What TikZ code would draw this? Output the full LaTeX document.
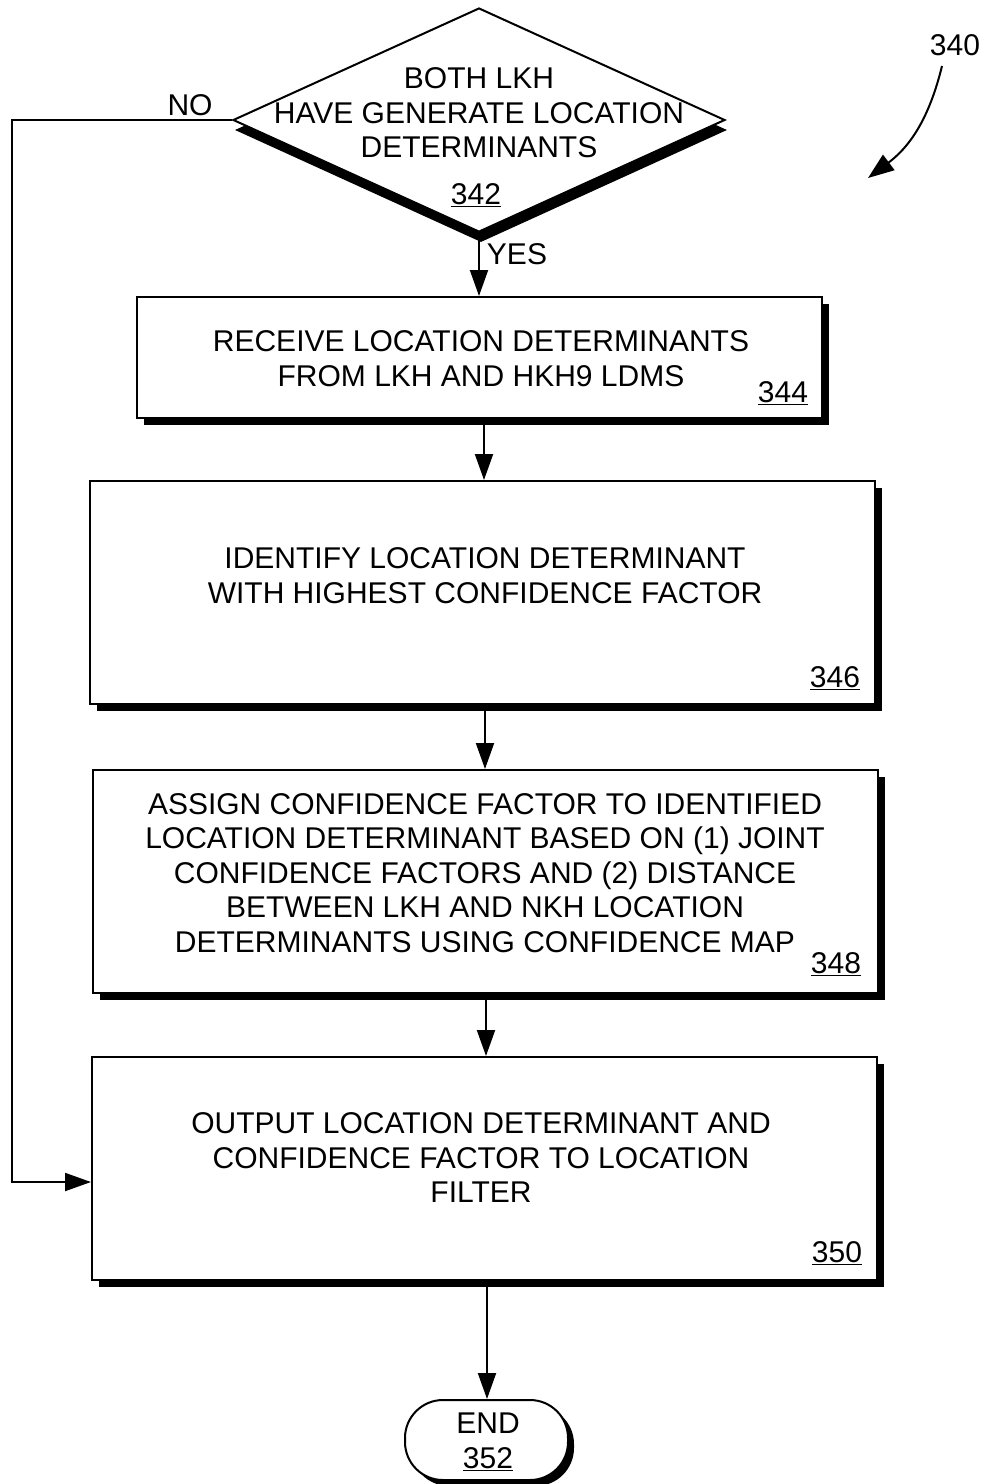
\documentclass[tikz,border=0pt]{standalone}
\usepackage{fontspec}
\setmainfont{Liberation Sans}
\usetikzlibrary{arrows.meta,shapes.geometric}
\begin{document}
\begin{tikzpicture}[x=1pt,y=-1pt,
  every node/.style={font=\fontsize{30}{34.5}\selectfont},
  stepbox/.style={draw,line width=2pt,fill=white,inner sep=0pt},
  shadowbox/.style={fill=black,inner sep=0pt},
  txt/.style={align=center,inner sep=0pt},
  num/.style={inner sep=0pt},
  arr/.style={line width=2pt,-{Triangle[length=26pt,width=18pt]}},
  line/.style={line width=2pt}]
\useasboundingbox (0,0) rectangle (986,1484);
% diamond
\node[diamond,shadowbox,minimum width=492pt,minimum height=224pt] (diash) at (481,130) {};
\node[diamond,stepbox,minimum width=492pt,minimum height=224pt] (dia) at (479,120) {};
\node[txt] (diat) at (479,113) {BOTH LKH\\HAVE GENERATE LOCATION\\DETERMINANTS};
\node[num] (n342) at (476,195) {\underline{342}};
% box 344
\node[shadowbox,minimum width=685pt,minimum height=121pt] (s344) at (486.5,364.5) {};
\node[stepbox,minimum width=685pt,minimum height=121pt] (b344) at (479.5,357.5) {};
\node[txt] (t344) at (481,358.5) {RECEIVE LOCATION DETERMINANTS\\FROM LKH AND HKH9 LDMS};
\node[num] (n344) at (783,393) {\underline{344}};
% box 346
\node[shadowbox,minimum width=785pt,minimum height=223pt] (s346) at (489.5,599.5) {};
\node[stepbox,minimum width=785pt,minimum height=223pt] (b346) at (482.5,592.5) {};
\node[txt] (t346) at (485,575.5) {IDENTIFY LOCATION DETERMINANT\\WITH HIGHEST CONFIDENCE FACTOR};
\node[num] (n346) at (835,678) {\underline{346}};
% box 348
\node[shadowbox,minimum width=785pt,minimum height=223pt] (s348) at (492.5,888.5) {};
\node[stepbox,minimum width=785pt,minimum height=223pt] (b348) at (485.5,881.5) {};
\node[txt] (t348) at (485,873) {ASSIGN CONFIDENCE FACTOR TO IDENTIFIED\\LOCATION DETERMINANT BASED ON (1) JOINT\\CONFIDENCE FACTORS AND (2) DISTANCE\\BETWEEN LKH AND NKH LOCATION\\DETERMINANTS USING CONFIDENCE MAP};
\node[num] (n348) at (836,964) {\underline{348}};
% box 350
\node[shadowbox,minimum width=785pt,minimum height=223pt] (s350) at (491.5,1175.5) {};
\node[stepbox,minimum width=785pt,minimum height=223pt] (b350) at (484.5,1168.5) {};
\node[txt] (t350) at (481,1158) {OUTPUT LOCATION DETERMINANT AND\\CONFIDENCE FACTOR TO LOCATION\\FILTER};
\node[num] (n350) at (837,1253) {\underline{350}};
% end
\node[shadowbox,rounded corners=38pt,minimum width=163pt,minimum height=80pt] (send) at (492.5,1446) {};
\node[stepbox,rounded corners=38pt,minimum width=163pt,minimum height=80pt] (bend) at (486.5,1440) {};
\node[txt] (tend) at (488,1442) {END\\\underline{352}};
% connectors
\draw[arr] (dia.south) -- (dia.south |- b344.north);
\draw[arr] (b344.south -| 484,0) -- (b346.north -| 484,0);
\draw[arr] (b346.south -| 485,0) -- (b348.north -| 485,0);
\draw[arr] (b348.south -| 486,0) -- (b350.north -| 486,0);
\draw[arr] (b350.south -| 487,0) -- (bend.north -| 487,0);
\coordinate (nocorner) at (12,1182);
\draw[arr] (dia.west) -| (nocorner) -- (nocorner -| b350.west);
\node[num] (lno) at (190,105) {NO};
\node[num] (lyes) at (517,254) {YES};
% reference label
\node[num] (l340) at (955,45) {340};
\coordinate (r340) at (868,178);
\draw[line width=2pt,-{Triangle[length=26pt,width=19pt]}] (942,66) .. controls (930,115) and (912,145) .. (r340);
\end{tikzpicture}
\end{document}
